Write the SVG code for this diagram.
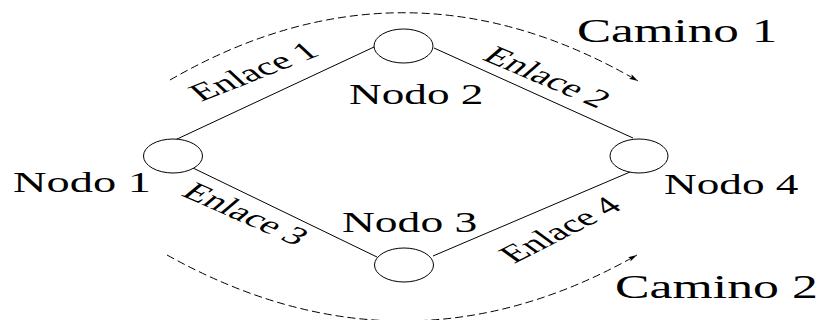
<svg xmlns="http://www.w3.org/2000/svg" width="822" height="320" viewBox="0 0 822 320">
<defs>
<style>
.node{fill:#fff;stroke:#000;stroke-width:1}
.link{stroke:#000;stroke-width:1;fill:none}
.path{stroke:#000;stroke-width:1;fill:none;stroke-dasharray:8 4}
.nl{font-size:29px}
.cl{font-size:33px}
.el{font-size:25px}
</style>
<marker id="ah" markerWidth="10" markerHeight="8" refX="9" refY="3" orient="auto" markerUnits="userSpaceOnUse">
<path d="M0,0.5 L9,3 L0,5.5 L2,3 z" fill="#000"/>
</marker>
</defs>
<rect width="822" height="320" fill="#fff"/>
<g id="connectors">
<line class="link" x1="175" y1="140" x2="374" y2="47"/>
<line class="link" x1="434" y1="48" x2="633" y2="138"/>
<line class="link" x1="193" y1="168" x2="377" y2="257"/>
<line class="link" x1="433" y1="256" x2="630" y2="172"/>
<path class="path" d="M170,80 Q404,-55 638,81" marker-end="url(#ah)"/>
<path class="path" d="M167,255 Q404,387 637,255" marker-end="url(#ah)"/>
</g>
<g id="link-labels" font-family="Liberation Serif">
<text class="el" transform="translate(201,102) scale(1.65,1) rotate(-33)">Enlace 1</text>
<text class="el" transform="translate(481,59) scale(1.65,1) rotate(35)">Enlace 2</text>
<text class="el" transform="translate(180,195) scale(1.65,1) rotate(36)">Enlace 3</text>
<text class="el" transform="translate(514,264) scale(1.65,1) rotate(-40)">Enlace 4</text>
</g>
<g id="nodo1" font-family="Liberation Serif">
<ellipse class="node" cx="173" cy="156" rx="29.5" ry="17"/>
<text class="nl" transform="translate(13,192) scale(1.6,1)">Nodo 1</text>
</g>
<g id="nodo2" font-family="Liberation Serif">
<ellipse class="node" cx="403.5" cy="46" rx="29.5" ry="17"/>
<text class="nl" transform="translate(349,104) scale(1.56,1)">Nodo 2</text>
</g>
<g id="nodo3" font-family="Liberation Serif">
<ellipse class="node" cx="404" cy="265" rx="29.5" ry="17"/>
<text class="nl" transform="translate(342,232) scale(1.57,1)">Nodo 3</text>
</g>
<g id="nodo4" font-family="Liberation Serif">
<ellipse class="node" cx="639" cy="156" rx="29" ry="17"/>
<text class="nl" transform="translate(664,194) scale(1.56,1)">Nodo 4</text>
</g>
<g id="camino1" font-family="Liberation Serif">
<text class="cl" transform="translate(577,42) scale(1.55,1)">Camino 1</text>
</g>
<g id="camino2" font-family="Liberation Serif">
<text class="cl" transform="translate(615,298) scale(1.57,1)">Camino 2</text>
</g>
</svg>
